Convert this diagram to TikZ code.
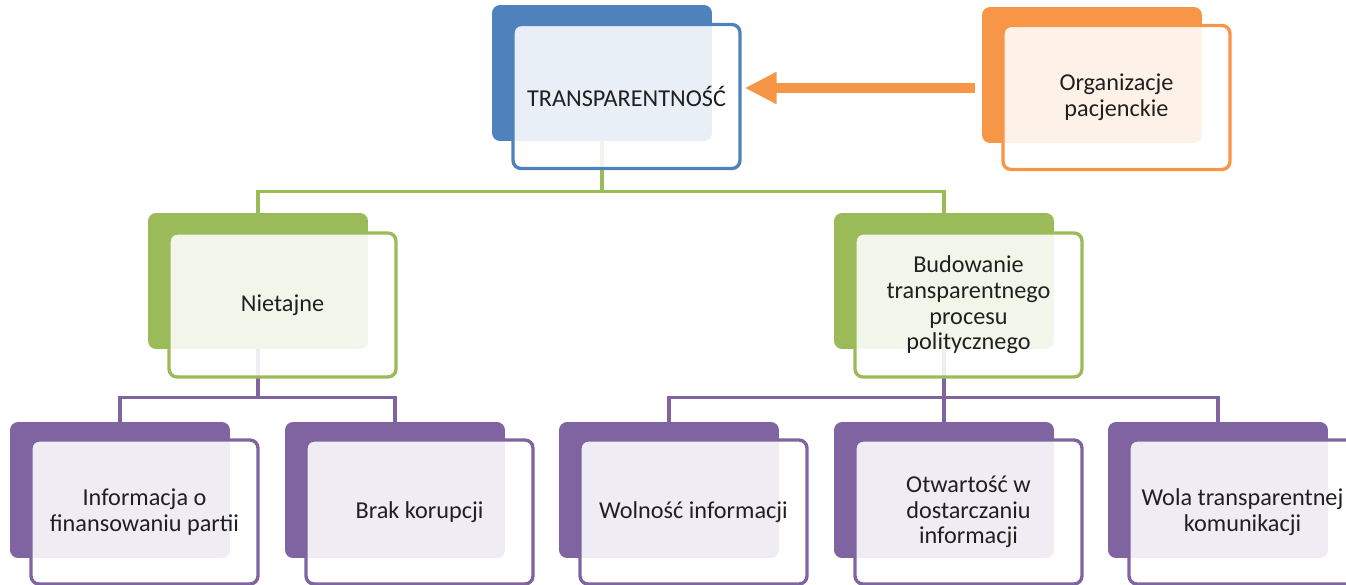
\documentclass[tikz,border=0pt]{standalone}
\usepackage{fontspec}
\setmainfont{Carlito}
\usetikzlibrary{arrows.meta}
\definecolor{tblue}{HTML}{4F81BD}
\definecolor{tgreen}{HTML}{9BBB59}
\definecolor{tpurple}{HTML}{8064A2}
\definecolor{torange}{HTML}{F79646}
\definecolor{ttext}{HTML}{202020}

\begin{document}
\begin{tikzpicture}[x=0.02cm, y=-0.02cm,
			back node/.style={rounded corners=0.16cm, minimum width=4.4cm, minimum height=2.72cm, inner sep=0pt, fill=#1},
			front node/.style={rounded corners=0.16cm, minimum width=4.54cm, minimum height=2.88cm, draw=#1, line width=1.9pt,
				fill=white, fill opacity=0.88, text opacity=1, text=ttext, align=center, font=\fontsize{13.8}{14.6}\selectfont},
			link/.style={line width=1.8pt, draw=#1}]
			
			\useasboundingbox (0,0) rectangle (1346,585);
			
			% back boxes
			\node[back node=tblue] (tB) at (602,73) {};
			\node[back node=torange] (oB) at (1092,75) {};
			\node[back node=tgreen] (nB) at (258,281) {};
			\node[back node=tgreen] (bB) at (944,281) {};
			\node[back node=tpurple] (iB) at (120,490) {};
			\node[back node=tpurple] (kB) at (395,490) {};
			\node[back node=tpurple] (wB) at (669,490) {};
			\node[back node=tpurple] (oiB) at (944,490) {};
			\node[back node=tpurple] (kmB) at (1218,490) {};
			
			% connectors
			\draw[link=tgreen] (tB.south) -- ++(0,50) -| (nB.north);
			\draw[link=tgreen] (tB.south) -- ++(0,50) -| (bB.north);
			\draw[link=tpurple] (nB.south) -- ++(0,48) -| (iB.north);
			\draw[link=tpurple] (nB.south) -- ++(0,48) -| (kB.north);
			\draw[link=tpurple] (bB.south) -- ++(0,48) -| (wB.north);
			\draw[link=tpurple] (bB.south) -- ++(0,48) -| (oiB.north);
			\draw[link=tpurple] (bB.south) -- ++(0,48) -| (kmB.north);
			
			% front boxes
			\node[front node=tblue] (t) at (626.5,96.5) {TRANSPARENTNOŚĆ};
			\node[front node=torange] (o) at (1116.5,97.5) {Organizacje\\pacjenckie};
			\node[front node=tgreen] (n) at (282.5,305) {Nietajne};
			\node[front node=tgreen] (b) at (968.5,305) {Budowanie\\transparentnego\\procesu\\politycznego};
			\node[front node=tpurple] (i) at (144.5,512) {Informacja o\\finansowaniu partii};
			\node[front node=tpurple] (k) at (419.5,512) {Brak korupcji};
			\node[front node=tpurple] (w) at (693.5,512) {Wolność informacji};
			\node[front node=tpurple] (oi) at (968.5,512) {Otwartość w\\dostarczaniu\\informacji};
			\node[front node=tpurple] (km) at (1242.5,512) {Wola transparentnej\\komunikacji};
			
			\draw[torange, line width=0.2cm, -{Triangle[length=0.64cm, width=0.6cm]}]
			([shift={(-7,13)}]oB.west) -- ([shift={(3,-8.5)}]t.east);
			
		\end{tikzpicture}
\end{document}
